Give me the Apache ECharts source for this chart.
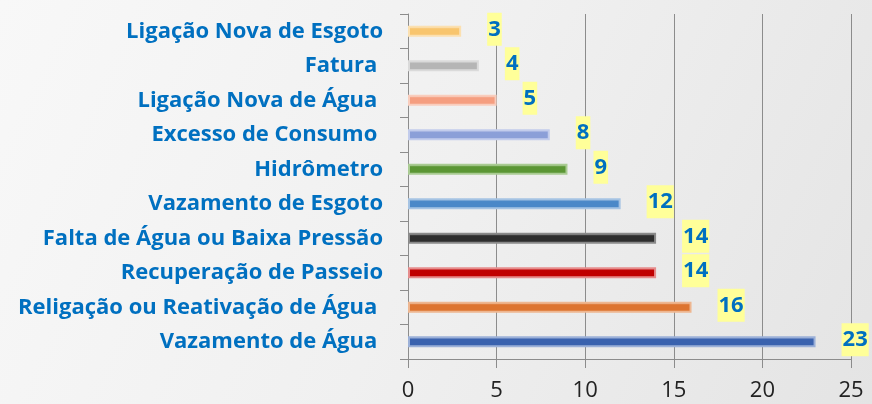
<!DOCTYPE html>
<html><head><meta charset="utf-8">
<script src="https://cdn.jsdelivr.net/npm/echarts@6/dist/echarts.min.js"></script>
<style>html,body{margin:0;padding:0;}#c{width:872px;height:404px;}</style>
</head><body><div id="c"></div>
<script>
// Data (top to bottom as displayed)
const categories = [
  'Ligação Nova de Esgoto',
  'Fatura ',
  'Ligação Nova de Água ',
  'Excesso de Consumo ',
  'Hidrômetro',
  'Vazamento de Esgoto',
  'Falta de Água ou Baixa Pressão',
  'Recuperação de Passeio',
  'Religação ou Reativação de Água ',
  'Vazamento de Água '
];
const values = [3, 4, 5, 8, 9, 12, 14, 14, 16, 23];
const xTicks = [0, 5, 10, 15, 20, 25];

// styles
const barColors = ['#F8C56E', '#B5B5B5', '#F59E80', '#8B9FD8', '#5B9634', '#4A88C8', '#2E2E2E', '#C00000', '#DD7430', '#3A62AE'];
const barBorders = ['#FBE0B0', '#DADADA', '#F9CDBD', '#C2CCEC', '#A9CB92', '#A5C3E3', '#8A8A8A', '#E68C8C', '#EEB690', '#9BB0D8'];

const chart = echarts.init(document.getElementById('c'));
chart.setOption({
  backgroundColor: new echarts.graphic.LinearGradient(0, 0, 1, 1, [
    {offset: 0, color: '#F8F8F8'}, {offset: 0.5, color: '#F0F0F0'}, {offset: 1, color: '#E4E4E4'}
  ]),
  animation: false,
  grid: {left: 408, right: 21, top: 14, bottom: 45, containLabel: false},
  xAxis: {
    type: 'value', min: xTicks[0], max: xTicks[xTicks.length - 1], interval: 5,
    axisLine: {show: true, lineStyle: {color: '#8C8C8C', width: 1}},
    axisTick: {show: true, length: 9, lineStyle: {color: '#8C8C8C'}},
    axisLabel: {color: '#222', fontSize: 22, fontFamily: 'Open Sans', margin: 21},
    splitLine: {show: true, lineStyle: {color: '#8C8C8C', width: 1}}
  },
  yAxis: {
    type: 'category', data: categories, inverse: true,
    axisLine: {show: true, lineStyle: {color: '#8C8C8C', width: 1}},
    axisTick: {show: true, length: 8, lineStyle: {color: '#8C8C8C'}},
    axisLabel: {color: '#0070C0', fontSize: 22, fontWeight: 'bold', fontFamily: 'Open Sans', margin: 25}
  },
  series: [{
    type: 'bar',
    data: values.map((v, i) => ({
      value: v,
      itemStyle: {
        color: new echarts.graphic.LinearGradient(0, 0, 0, 1, [
          {offset: 0, color: barBorders[i]}, {offset: 0.3, color: barColors[i]}, {offset: 1, color: barColors[i]}
        ]),
        borderColor: barBorders[i], borderWidth: 2
      }
    })),
    barWidth: 11,
    label: {
      show: true, position: 'right', distance: 26, offset: [0, -2],
      color: '#0070C0', fontSize: 22, fontWeight: 'bold', fontFamily: 'Open Sans',
      backgroundColor: '#FFFF99', padding: [6, 1, 5, 1]
    }
  }]
});
</script>
</body></html>
